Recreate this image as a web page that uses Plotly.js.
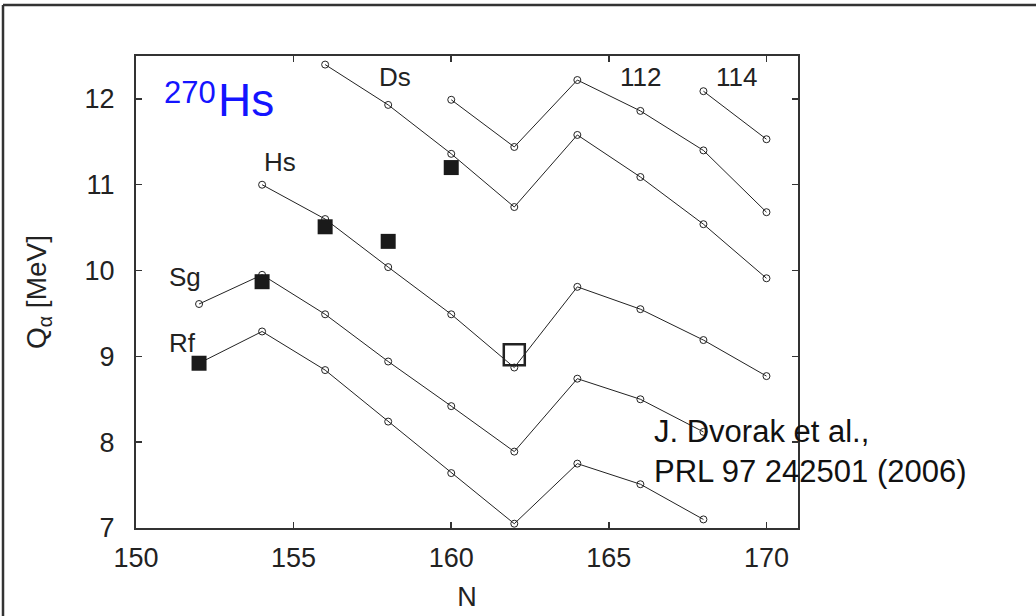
<!DOCTYPE html>
<html>
<head>
<meta charset="utf-8">
<script src="https://cdn.plot.ly/plotly-3.0.1.min.js"></script>
<style>html,body{margin:0;padding:0;background:#fff;}#chart{width:1036px;height:616px;}</style>
</head>
<body>
<div id="chart"></div>
<script>
// Calculated Q-alpha values [MeV] along isotope chains (x = neutron number N)
const rfN = [152, 154, 156, 158, 160, 162, 164, 166, 168];
const rfQ = [8.92, 9.29, 8.84, 8.24, 7.64, 7.05, 7.75, 7.51, 7.10];
const sgN = [152, 154, 156, 158, 160, 162, 164, 166, 168];
const sgQ = [9.61, 9.95, 9.49, 8.94, 8.42, 7.89, 8.74, 8.50, 8.12];
const hsN = [154, 156, 158, 160, 162, 164, 166, 168, 170];
const hsQ = [11.00, 10.60, 10.04, 9.49, 8.87, 9.81, 9.55, 9.19, 8.77];
const dsN = [156, 158, 160, 162, 164, 166, 168, 170];
const dsQ = [12.40, 11.93, 11.36, 10.74, 11.58, 11.09, 10.54, 9.91];
const e112N = [160, 162, 164, 166, 168, 170];
const e112Q = [11.99, 11.44, 12.22, 11.86, 11.40, 10.68];
const e114N = [168, 170];
const e114Q = [12.09, 11.53];
// Experimental values (filled squares) and 270Hs (open square)
const expN = [152, 154, 156, 158, 160];
const expQ = [8.92, 9.87, 10.51, 10.34, 11.20];
const hs270N = [162];
const hs270Q = [9.02];
// Chain labels
const labelText = ["Rf", "Sg", "Hs", "Ds", "112", "114"];
const labelN = [151.47, 151.56, 154.57, 158.21, 166.0, 169.05];
const labelQ = [9.15, 9.93, 11.26, 12.25, 12.26, 12.26];

const ink = "#222222";
const FONT = "Liberation Sans, Arial, Helvetica, sans-serif";

function chain(x, y) {
  return {
    x: x, y: y, type: "scatter", mode: "lines+markers",
    line: {color: ink, width: 1},
    marker: {symbol: "circle-open", size: 7, color: ink, line: {color: ink, width: 1}},
    showlegend: false, hoverinfo: "x+y"
  };
}

const traces = [
  chain(rfN, rfQ), chain(sgN, sgQ), chain(hsN, hsQ),
  chain(dsN, dsQ), chain(e112N, e112Q), chain(e114N, e114Q),
  {x: expN, y: expQ, type: "scatter", mode: "markers",
   marker: {symbol: "square", size: 15, color: "#1a1a1a", line: {width: 0}}, showlegend: false},
  {x: hs270N, y: hs270Q, type: "scatter", mode: "markers",
   marker: {symbol: "square-open", size: 21, color: "#222", line: {color: "#222", width: 2.5}}, showlegend: false}
];

const annotations = labelText.map((t, i) => ({
  x: labelN[i], y: labelQ[i], xref: "x", yref: "y", text: t, showarrow: false,
  font: {family: FONT, size: 26, color: ink}, xanchor: "center", yanchor: "middle"
}));
// 270Hs title: mass number as a superscript, drawn as its own smaller text
annotations.push({
  x: 150.83, y: 12.07, xref: "x", yref: "y", text: "270", showarrow: false,
  font: {family: FONT, size: 31, color: "#1414ff"}, xanchor: "left", yanchor: "middle"
});
annotations.push({
  x: 152.55, y: 11.985, xref: "x", yref: "y", text: "Hs", showarrow: false,
  font: {family: FONT, size: 46, color: "#1414ff"}, xanchor: "left", yanchor: "middle"
});
annotations.push({
  x: 166.36, y: 8.12, xref: "x", yref: "y", text: "J. Dvorak et al.,", showarrow: false,
  font: {family: FONT, size: 31, color: "#111"}, xanchor: "left", yanchor: "middle"
});
annotations.push({
  x: 166.36, y: 7.66, xref: "x", yref: "y", text: "PRL 97 242501 (2006)", showarrow: false,
  font: {family: FONT, size: 31, color: "#111"}, xanchor: "left", yanchor: "middle"
});

const L = 136, R = 238, T = 56, B = 88, W = 1036, H = 616;
const pw = W - L - R, ph = H - T - B;
const px = v => (v - L) / pw;
const py = v => (H - B - v) / ph;

const layout = {
  width: W, height: H,
  margin: {l: L, r: R, t: T, b: B, pad: 0},
  paper_bgcolor: "#fff", plot_bgcolor: "#fff",
  showlegend: false,
  font: {family: FONT, color: ink},
  xaxis: {
    range: [150, 171], tickvals: [150, 155, 160, 165, 170],
    ticks: "inside", ticklen: 6, tickwidth: 1.5, tickcolor: "#333",
    showline: true, linecolor: "#333", linewidth: 2, mirror: "ticks",
    showgrid: false, zeroline: false,
    tickfont: {family: FONT, size: 27, color: ink}, ticklabelstandoff: 5,
    title: {text: "N", font: {family: FONT, size: 27, color: ink}, standoff: 15}
  },
  yaxis: {
    range: [7, 12.5], tickvals: [7, 8, 9, 10, 11, 12],
    ticks: "inside", ticklen: 6, tickwidth: 1.5, tickcolor: "#333",
    showline: true, linecolor: "#333", linewidth: 2, mirror: "ticks",
    showgrid: false, zeroline: false,
    tickfont: {family: FONT, size: 27, color: ink}, ticklabelstandoff: 14,
    title: {text: "Q<sub>α</sub> [MeV]", font: {family: FONT, size: 28, color: ink}, standoff: 30}
  },
  annotations: annotations,
  shapes: [
    {type: "line", xref: "paper", yref: "paper", x0: px(3), x1: px(1040), y0: py(5), y1: py(5),
     line: {color: "#333", width: 2.5}},
    {type: "line", xref: "paper", yref: "paper", x0: px(3), x1: px(3), y0: py(5), y1: py(620),
     line: {color: "#333", width: 2.5}}
  ]
};

Plotly.newPlot("chart", traces, layout, {displayModeBar: false, staticPlot: true});
</script>
</body>
</html>
